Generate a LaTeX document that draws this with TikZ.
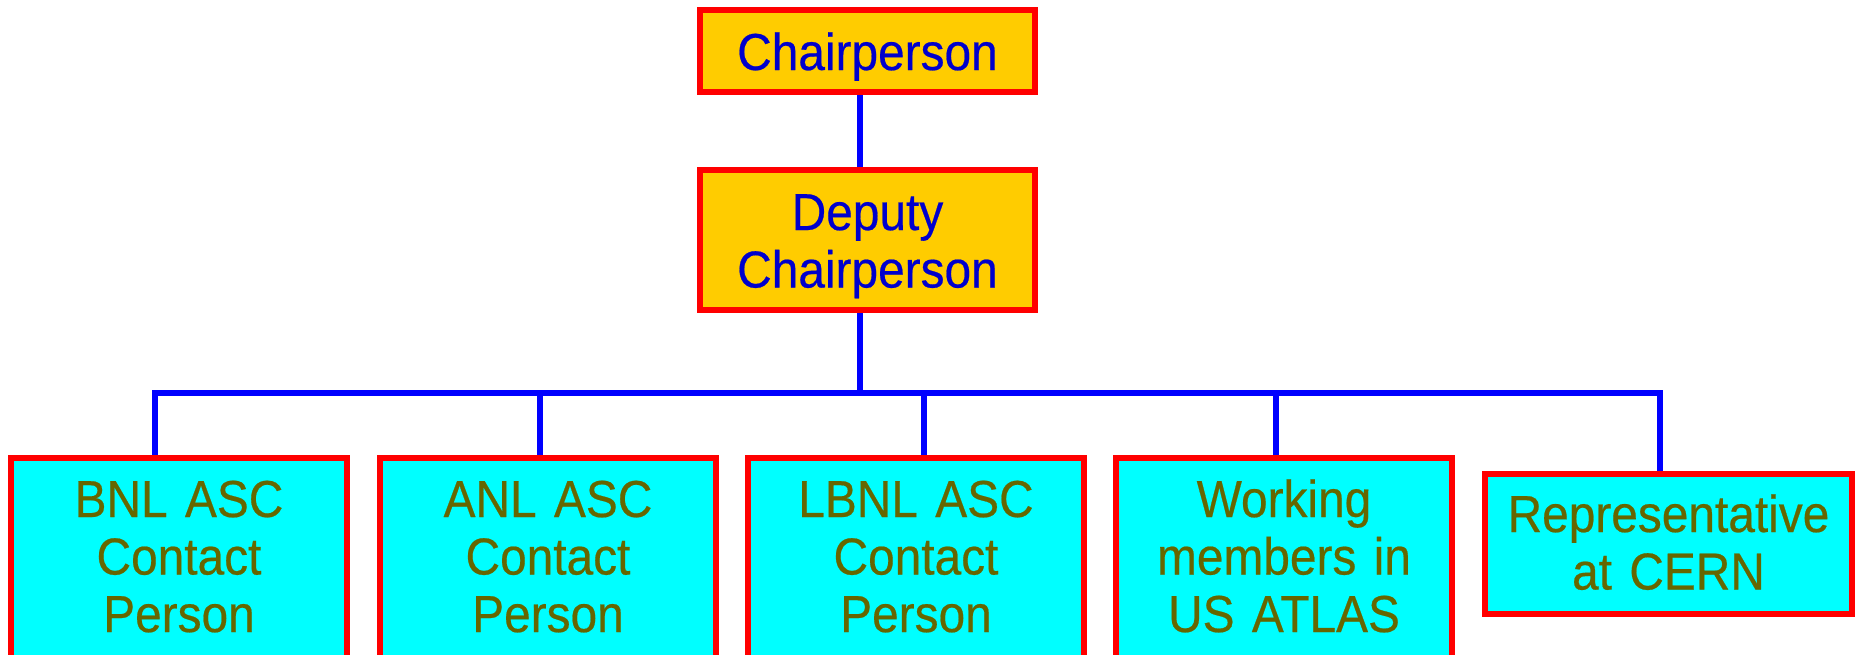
\documentclass[tikz,border=0pt]{standalone}
\usepackage{fontspec}
\setmainfont[FakeStretch=0.92,FakeBold=0.4]{Liberation Sans}
\definecolor{boxred}{HTML}{FF0000}
\definecolor{gold}{HTML}{FFCC00}
\definecolor{aqua}{HTML}{00FFFF}
\definecolor{textblue}{HTML}{0000CC}
\definecolor{olive}{HTML}{666600}
\definecolor{lineblue}{HTML}{0000FF}
\begin{document}
\begin{tikzpicture}[x=1pt,y=-1pt,
  box/.style={draw=boxred,line width=6pt,inner sep=0pt,align=center,
    font=\fontsize{52}{57.5}\selectfont,anchor=base},
  topbox/.style={box,fill=gold,text=textblue,text width=335pt},
  lowbox/.style={box,fill=aqua,text=olive,text width=336pt,text height=59pt,text depth=150pt},
  link/.style={draw=lineblue,line width=6pt,line join=miter}]
\useasboundingbox (0,0) rectangle (1856,654);
% top boxes
\node[topbox,text height=60pt,text depth=22pt] (chair) at (867.5,70) {Chairperson};
\node[topbox,text height=60pt,text depth=80pt] (dep) at (867.5,230) {Deputy\\Chairperson};
% bottom boxes
\node[lowbox] (bnl) at (179,517) {BNL ASC\\Contact\\Person};
\node[lowbox] (anl) at (548,517) {ANL ASC\\Contact\\Person};
\node[lowbox] (lbnl) at (916,517) {LBNL ASC\\Contact\\Person};
\node[lowbox] (work) at (1284,517) {Working\\members in\\US ATLAS};
\node[box,fill=aqua,text=olive,text width=367pt,text height=58pt,text depth=82pt] (rep) at (1668.5,532) {Representative\\at CERN};
% connector coordinates
\coordinate (trunk) at (860,393);
\coordinate (d1) at (155,393);
\coordinate (d2) at (540,393);
\coordinate (d3) at (924,393);
\coordinate (d4) at (1276,393);
\coordinate (d5) at (1660,393);
% connectors
\draw[link] (chair.south -| trunk) -- (dep.north -| trunk);
\draw[link] (dep.south -| trunk) -- (trunk);
\draw[link] (bnl.north -| d1) -- (d1) -- (d5) -- (rep.north -| d5);
\draw[link] (anl.north -| d2) -- (d2);
\draw[link] (lbnl.north -| d3) -- (d3);
\draw[link] (work.north -| d4) -- (d4);
\end{tikzpicture}
\end{document}
